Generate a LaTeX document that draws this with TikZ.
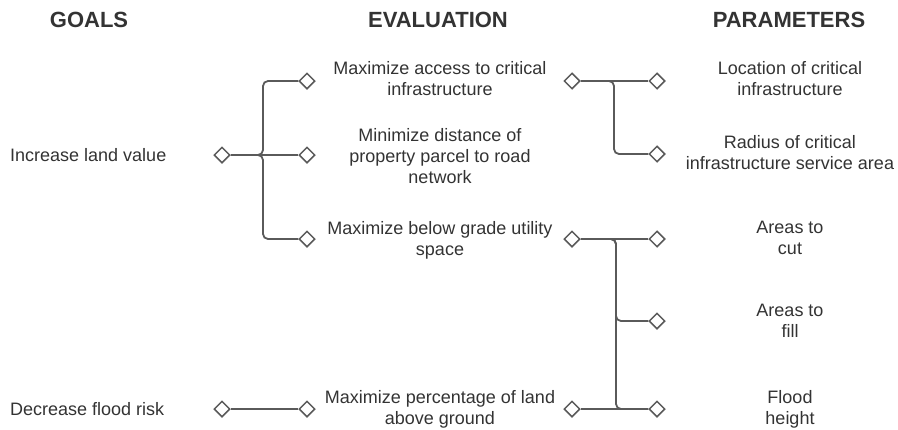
\documentclass[tikz,border=0pt]{standalone}
\usepackage{fontspec}
\setmainfont{Liberation Sans}
\usetikzlibrary{shapes.geometric,backgrounds}
\definecolor{ink}{HTML}{333333}
\definecolor{wiregray}{HTML}{5A5A5A}
\tikzset{
  head/.style  = {font=\fontsize{22}{26}\selectfont\bfseries, text=ink, inner sep=0pt},
  txt/.style   = {font=\fontsize{18}{21}\selectfont, text=ink, align=center, inner sep=0pt},
  goal/.style  = {txt, anchor=west},
  dia/.style   = {diamond, draw=wiregray, fill=white, line width=1.5pt, minimum size=16pt, inner sep=0pt},
  link/.style  = {draw=wiregray, line width=1.8pt, rounded corners=5pt},
}
\begin{document}
\begin{tikzpicture}[x=1pt,y=-1pt]
\useasboundingbox (0,0) rectangle (898,429);
% column heads
\node[head] (hgoal)  at (89,20)  {GOALS};
\node[head] (heval)  at (438,20) {EVALUATION};
\node[head] (hparam) at (789,20) {PARAMETERS};
% goals
\node[goal] (g1) at (10,155) {Increase land value};
\node[goal] (g2) at (10,409) {Decrease flood risk};
\node[dia] (g1r) at (222,155) {};
\node[dia] (g2r) at (222,409) {};
% evaluation
\node[dia] (e1l) at (307,81)  {};
\node[dia] (e2l) at (307,155) {};
\node[dia] (e3l) at (307,239) {};
\node[dia] (e4l) at (307,409) {};
\node[txt] (e1) at (440,79)  {Maximize access to critical\\infrastructure};
\node[txt] (e2) at (440,156) {Minimize distance of\\property parcel to road\\network};
\node[txt] (e3) at (440,240) {Maximize below grade utility\\space};
\node[txt] (e4) at (440,409) {Maximize percentage of land\\above ground};
\node[dia] (e1r) at (572,81)  {};
\node[dia] (e3r) at (572,239) {};
\node[dia] (e4r) at (572,409) {};
% parameters
\node[dia] (p1l) at (657,81)  {};
\node[dia] (p2l) at (657,154) {};
\node[dia] (p3l) at (657,239) {};
\node[dia] (p4l) at (657,321) {};
\node[dia] (p5l) at (657,409) {};
\node[txt] (p1) at (790,79)  {Location of critical\\infrastructure};
\node[txt] (p2) at (790,153) {Radius of critical\\infrastructure service area};
\node[txt] (p3) at (790,238) {Areas to\\cut};
\node[txt] (p4) at (790,321) {Areas to\\fill};
\node[txt] (p5) at (790,409) {Flood\\height};
% branch points
\coordinate (j1) at (263,155);
\coordinate (j2) at (614,81);
\coordinate (j3) at (616,239);
\begin{scope}[on background layer]
\draw[link] (g1r.east) -- (e2l.west);
\draw[link] (g1r.east) -| (j1 |- e1l) -- (e1l.west);
\draw[link] (g1r.east) -| (j1 |- e3l) -- (e3l.west);
\draw[link] (g2r.east) -- (e4l.west);
\draw[link] (e1r.east) -- (p1l.west);
\draw[link] (e1r.east) -| (j2 |- p2l) -- (p2l.west);
\draw[link] (e3r.east) -- (p3l.west);
\draw[link] (e3r.east) -| (j3 |- p4l) -- (p4l.west);
\draw[link] (e3r.east) -| (j3 |- p5l) -- (p5l.west);
\draw[link] (e4r.east) -- (p5l.west);
\end{scope}
\end{tikzpicture}
\end{document}
